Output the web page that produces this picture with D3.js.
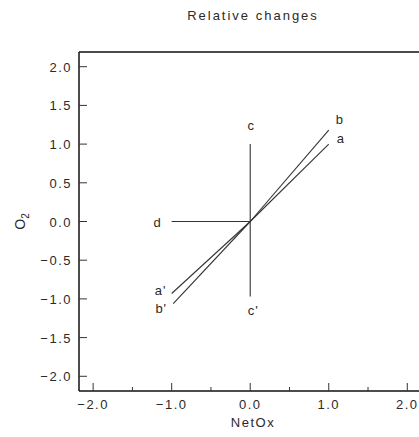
<!DOCTYPE html>
<html>
<head>
<meta charset="utf-8">
<script src="https://cdn.jsdelivr.net/npm/d3@7"></script>
<style>
body { margin: 0; background: #fff; }
text { font-family: "Liberation Sans", Arial, sans-serif; fill: #2a2a2a; }
</style>
</head>
<body>
<div id="chart"></div>
<script>
var width = 419;
var height = 437;

// vectors from the origin
var vecNames = ['a', 'b', "a'", "b'", 'c', "c'", 'd'];
var vecX = [1.0, 1.0, -1.0, -0.98, 0.0, 0.0, -1.0];
var vecY = [1.0, 1.18, -0.93, -1.06, 1.0, -0.97, 0.0];

var xTicks = [-2.0, -1.0, 0.0, 1.0, 2.0];
var xMinor = [-1.5, -0.5, 0.5, 1.5];
var yTicks = [-2.0, -1.5, -1.0, -0.5, 0.0, 0.5, 1.0, 1.5, 2.0];

var margin = {left: 79, top: 52};
var plotW = 344, plotH = 339;

var svg = d3.select('#chart').append('svg').attr('width', width).attr('height', height);

var x = d3.scaleLinear().domain([-2.18, 2.2]).range([margin.left, margin.left + plotW]);
var y = d3.scaleLinear().domain([-2.19, 2.19]).range([margin.top + plotH, margin.top]);

var fmt = function(d){ return d3.format('.1f')(d).replace('-', '\u2212'); };

svg.append('text').attr('x', 253).attr('y', 20).attr('text-anchor', 'middle')
    .attr('font-size', 13).style('letter-spacing', '2px').text('Relative changes');

// frame
var frame = svg.append('g');
frame.append('line').attr('x1', x.range()[0]).attr('x2', x.range()[1])
    .attr('y1', y.range()[1]).attr('y2', y.range()[1]).attr('stroke', '#111').attr('stroke-width', 1.5);
frame.append('line').attr('x1', x.range()[0]).attr('x2', x.range()[1])
    .attr('y1', y.range()[0]).attr('y2', y.range()[0]).attr('stroke', '#111').attr('stroke-width', 1.5);
frame.append('line').attr('x1', x.range()[0]).attr('x2', x.range()[0])
    .attr('y1', y.range()[0]).attr('y2', y.range()[1]).attr('stroke', '#111').attr('stroke-width', 1.5);

// x axis ticks (inward)
var xg = svg.append('g');
xg.selectAll('.xmaj').data(xTicks).enter().append('line')
    .attr('x1', function(d){ return x(d); }).attr('x2', function(d){ return x(d); })
    .attr('y1', y.range()[0]).attr('y2', y.range()[0] - 8)
    .attr('stroke', '#333').attr('stroke-width', 1);
xg.selectAll('.xmin').data(xMinor).enter().append('line')
    .attr('x1', function(d){ return x(d); }).attr('x2', function(d){ return x(d); })
    .attr('y1', y.range()[0]).attr('y2', y.range()[0] - 4)
    .attr('stroke', '#333').attr('stroke-width', 1);
xg.selectAll('.xlab').data(xTicks).enter().append('text')
    .attr('x', function(d){ return x(d); }).attr('y', y.range()[0] + 18)
    .attr('text-anchor', 'middle').attr('font-size', 13).style('letter-spacing', '1.5px')
    .text(fmt);

// y axis ticks
var yg = svg.append('g');
yg.selectAll('.ymaj').data(yTicks).enter().append('line')
    .attr('x1', x.range()[0]).attr('x2', x.range()[0] + 8)
    .attr('y1', function(d){ return y(d); }).attr('y2', function(d){ return y(d); })
    .attr('stroke', '#333').attr('stroke-width', 1);
yg.selectAll('.ylab').data(yTicks).enter().append('text')
    .attr('x', x.range()[0] - 7).attr('y', function(d){ return y(d) + 5; })
    .attr('text-anchor', 'end').attr('font-size', 13).style('letter-spacing', '1.5px')
    .text(fmt);

// axis titles
svg.append('text').attr('x', 253).attr('y', 427).attr('text-anchor', 'middle')
    .attr('font-size', 13).style('letter-spacing', '1.5px').text('NetOx');
var yl = svg.append('text').attr('transform', 'translate(25,' + y(0) + ') rotate(-90)')
    .attr('text-anchor', 'middle').attr('font-size', 14);
yl.append('tspan').text('O');
yl.append('tspan').attr('font-size', 10).attr('dy', 4).text('2');

// vectors
var vecs = vecNames.map(function(n, i){ return {name: n, x: vecX[i], y: vecY[i]}; });
svg.append('g').selectAll('line').data(vecs).enter().append('line')
    .attr('x1', x(0)).attr('y1', y(0))
    .attr('x2', function(d){ return x(d.x); }).attr('y2', function(d){ return y(d.y); })
    .attr('stroke', '#333').attr('stroke-width', 1.1);

// labels placed next to the end of each vector
var offX = {'a': 12, 'b': 11, "a'": -11, "b'": -12, 'c': 1, "c'": 3, 'd': -14};
var offY = {'a': -1, 'b': -6, "a'": 2, "b'": 9, 'c': -14, "c'": 18, 'd': 5};
svg.append('g').selectAll('text').data(vecs).enter().append('text')
    .attr('x', function(d){ return x(d.x) + offX[d.name]; })
    .attr('y', function(d){ return y(d.y) + offY[d.name]; })
    .attr('text-anchor', 'middle').attr('font-size', 13).style('letter-spacing', '1px')
    .text(function(d){ return d.name; });
</script>
</body>
</html>
